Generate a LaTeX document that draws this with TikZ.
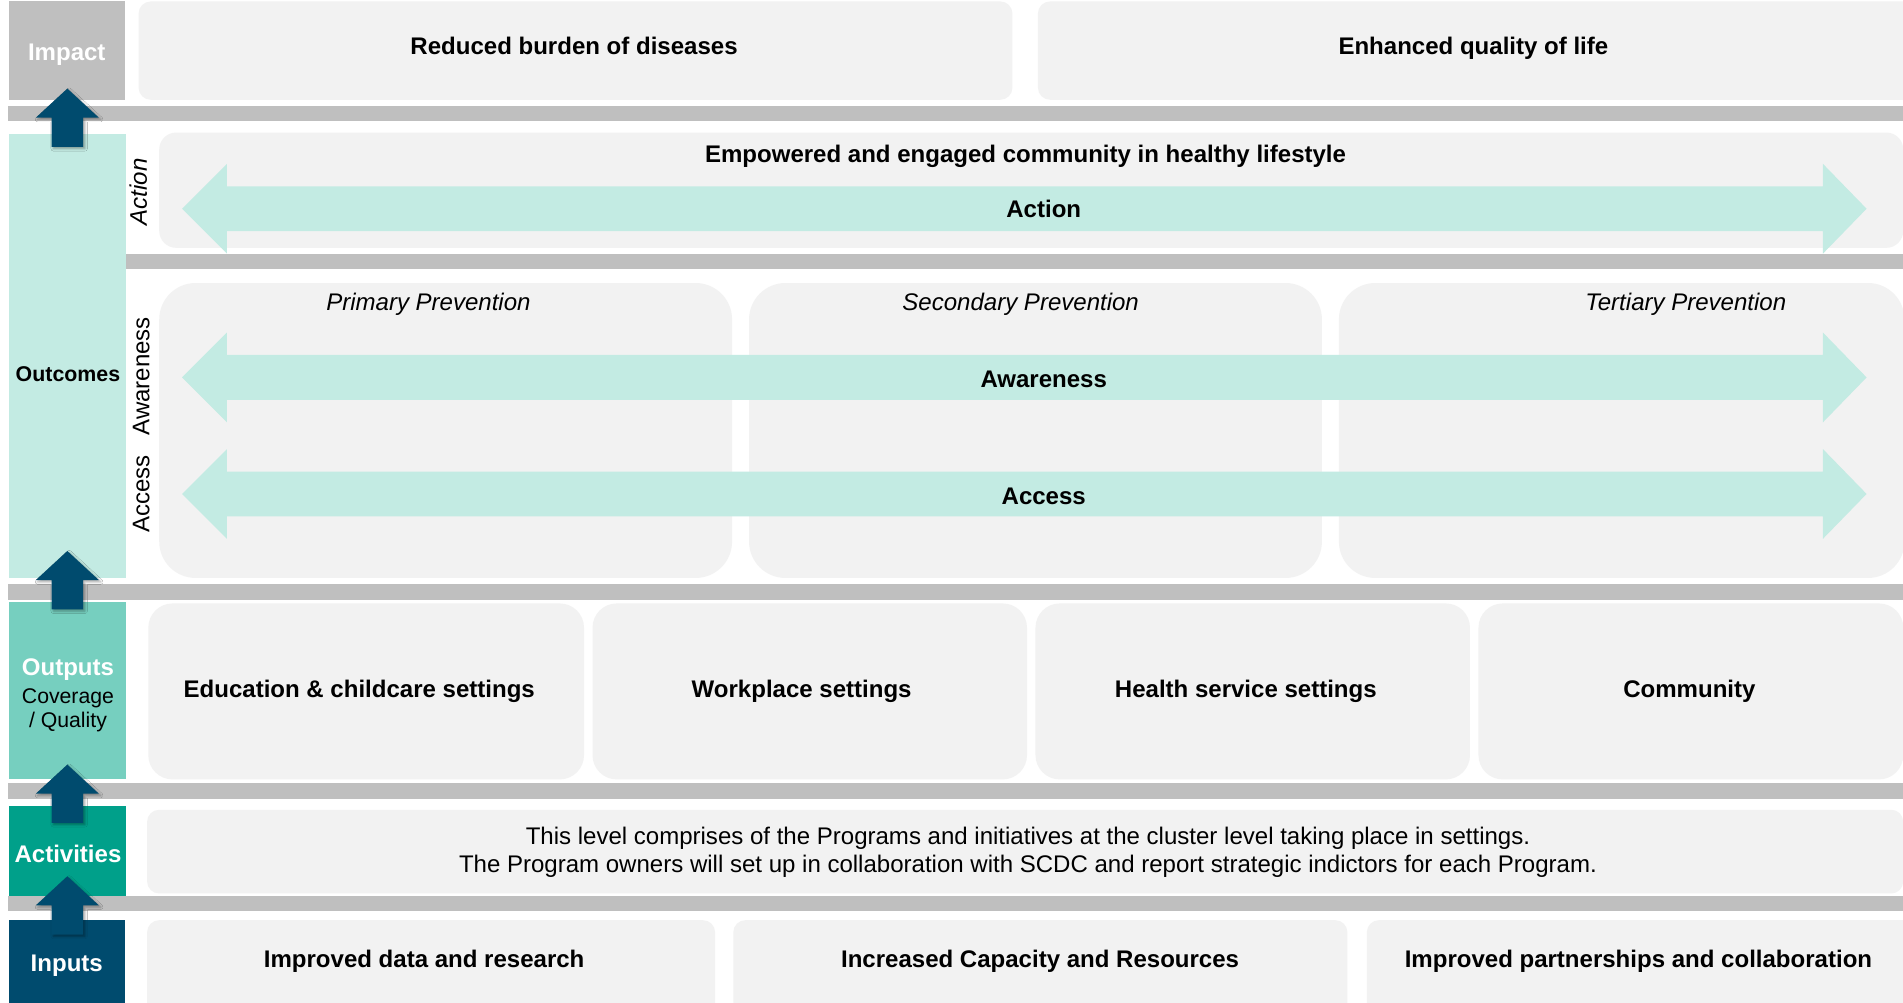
\documentclass[tikz,border=0pt]{standalone}
\usepackage{fontspec}
\setmainfont{Liberation Sans}
\usetikzlibrary{shadows.blur}
\definecolor{barGray}{HTML}{BFBFBF}
\definecolor{cardGray}{HTML}{F2F2F2}
\definecolor{tealLight}{HTML}{C3EBE3}
\definecolor{tealMid}{HTML}{76CFBF}
\definecolor{tealDark}{HTML}{00A08A}
\definecolor{navy}{HTML}{004B6E}
\newcommand\UpBlockArrow[3]{% name, x, tip y
  \coordinate (#1) at (#2,#3);
  \fill[navy, blur shadow={shadow xshift=1.5pt, shadow yshift=-1.5pt, shadow blur radius=2pt, shadow opacity=35}]
    (#1) -- ++(26,24) -- ++(-13,0) -- ++(0,24) -- ++(-26,0) -- ++(0,-24) -- ++(-13,0) -- cycle;}
\newcommand\DblBlockArrow[2]{% name, centre y
  \coordinate (#1) at (150,#2);
  \fill[tealLight] (#1) -- ++(37,-37) -- ++(0,18.5) -- ++(1315,0) -- ++(0,-18.5) -- ++(36,37)
    -- ++(-36,37) -- ++(0,-18.5) -- ++(-1315,0) -- ++(0,18.5) -- cycle;}
\begin{document}
\begin{tikzpicture}[x=1pt,y=-1pt,
  bar/.style={fill=barGray, draw=none},
  card/.style={fill=cardGray, draw=none, anchor=north west, inner sep=0pt},
  side/.style={draw=none, anchor=north west, inner sep=0pt},
  lbl/.style={inner sep=0pt, text height=14pt, text depth=0pt, font=\fontsize{19.8}{23}\selectfont},
  blbl/.style={lbl, font=\fontsize{19.8}{23}\selectfont\bfseries},
  ilbl/.style={lbl, font=\fontsize{19.8}{23}\selectfont\itshape},
]
\useasboundingbox (0,0) rectangle (1568,826);
\clip (0,0) rectangle (1568,826);
\fill[white] (0,0) rectangle (1568,826);

% horizontal bars
\fill[bar] (7,87) rectangle (1568,100);
\fill[bar] (104,209) rectangle (1568,222);
\fill[bar] (7,481) rectangle (1568,494);
\fill[bar] (7,645) rectangle (1568,658);
\fill[bar] (7,738) rectangle (1568,751);

% left column
\node[side, fill=barGray, minimum width=96pt, minimum height=81pt] (impact) at (7,1) {};
\node[side, fill=tealLight, minimum width=97pt, minimum height=366pt] (outcomes) at (7,110) {};
\node[side, fill=tealMid, minimum width=97pt, minimum height=146pt] (outputs) at (7,496) {};
\node[side, fill=tealDark, minimum width=97pt, minimum height=74pt] (activities) at (7,664) {};
\node[side, fill=navy, minimum width=96pt, minimum height=70pt] (inputs) at (7,758) {};

% cards
\node[card, rounded corners=10pt, minimum width=720pt, minimum height=81pt] (imp1) at (114,1) {};
\node[card, rounded corners=10pt, minimum width=730pt, minimum height=81pt] (imp2) at (855,1) {};
\node[card, rounded corners=14pt, minimum width=1437pt, minimum height=95pt] (act) at (131,109) {};
\node[card, rounded corners=30pt, minimum width=472pt, minimum height=243pt] (prev1) at (131,233) {};
\node[card, rounded corners=30pt, minimum width=472pt, minimum height=243pt] (prev2) at (617,233) {};
\node[card, rounded corners=30pt, minimum width=466pt, minimum height=243pt] (prev3) at (1103,233) {};
\node[card, rounded corners=20pt, minimum width=359pt, minimum height=145pt] (out1) at (122,497) {};
\node[card, rounded corners=20pt, minimum width=358pt, minimum height=145pt] (out2) at (488,497) {};
\node[card, rounded corners=20pt, minimum width=358pt, minimum height=145pt] (out3) at (853,497) {};
\node[card, rounded corners=20pt, minimum width=350pt, minimum height=145pt] (out4) at (1218,497) {};
\node[card, rounded corners=10pt, minimum width=1447pt, minimum height=69pt] (actv) at (121,667) {};
\node[card, rounded corners=10pt, minimum width=468pt, minimum height=80pt] (in1) at (121,758) {};
\node[card, rounded corners=10pt, minimum width=506pt, minimum height=80pt] (in2) at (604,758) {};
\node[card, rounded corners=10pt, minimum width=452pt, minimum height=80pt] (in3) at (1126,758) {};

% double arrows
\DblBlockArrow{actionArrow}{172}
\DblBlockArrow{awareArrow}{311}
\DblBlockArrow{accessArrow}{407}

% up arrows
\UpBlockArrow{upA}{55.5}{73}
\UpBlockArrow{upB}{55.5}{454}
\UpBlockArrow{upC}{55.5}{630}
\UpBlockArrow{upD}{55.5}{722}

% left labels
\node[blbl, text=white] (tImpact) at (55,42.5) {Impact};
\node[lbl, font=\fontsize{17.6}{21}\selectfont\bfseries] (tOutcomes) at (56,307.5) {Outcomes};
\node[blbl, text=white] (tOutputs) at (56,549.5) {Outputs};
\node[lbl, font=\fontsize{17.5}{21}\selectfont] (tCoverage) at (56,572.5) {Coverage};
\node[lbl, font=\fontsize{17.5}{21}\selectfont] (tQuality) at (56,592.5) {/ Quality};
\node[blbl, text=white] (tActivities) at (56,703.5) {Activities};
\node[blbl, text=white] (tInputs) at (55,793.5) {Inputs};

% rotated labels
\node[ilbl, rotate=90] (rAction) at (114,158) {Action};
\node[lbl, rotate=90] (rAware) at (116,310) {Awareness};
\node[lbl, rotate=90] (rAccess) at (116,407) {Access};

% card texts
\node[blbl] (tImp1) at (473,37.5) {Reduced burden of diseases};
\node[blbl] (tImp2) at (1214,37.5) {Enhanced quality of life};
\node[blbl] (tEmp) at (845,126.5) {Empowered and engaged community in healthy lifestyle};
\node[blbl] (tAction) at (860,172.5) {Action};
\node[ilbl] (tPrim) at (353,248.5) {Primary Prevention};
\node[ilbl] (tSec) at (841,248.5) {Secondary Prevention};
\node[ilbl] (tTer) at (1389,248.5) {Tertiary Prevention};
\node[blbl] (tAware) at (860,312.5) {Awareness};
\node[blbl] (tAccess) at (860,408.5) {Access};
\node[blbl] (tOut1) at (296,567.5) {Education \& childcare settings};
\node[blbl] (tOut2) at (660.5,567.5) {Workplace settings};
\node[blbl] (tOut3) at (1026.5,567.5) {Health service settings};
\node[blbl] (tOut4) at (1392,567.5) {Community};
\node[lbl] (tAct1) at (847,688.5) {This level comprises of the Programs and initiatives at the cluster level taking place in settings.};
\node[lbl] (tAct2) at (847,711.5) {The Program owners will set up in collaboration with SCDC and report strategic indictors for each Program.};
\node[blbl] (tIn1) at (349.5,790.5) {Improved data and research};
\node[blbl] (tIn2) at (857,790.5) {Increased Capacity and Resources};
\node[blbl] (tIn3) at (1350,790.5) {Improved partnerships and collaboration};
\end{tikzpicture}
\end{document}
